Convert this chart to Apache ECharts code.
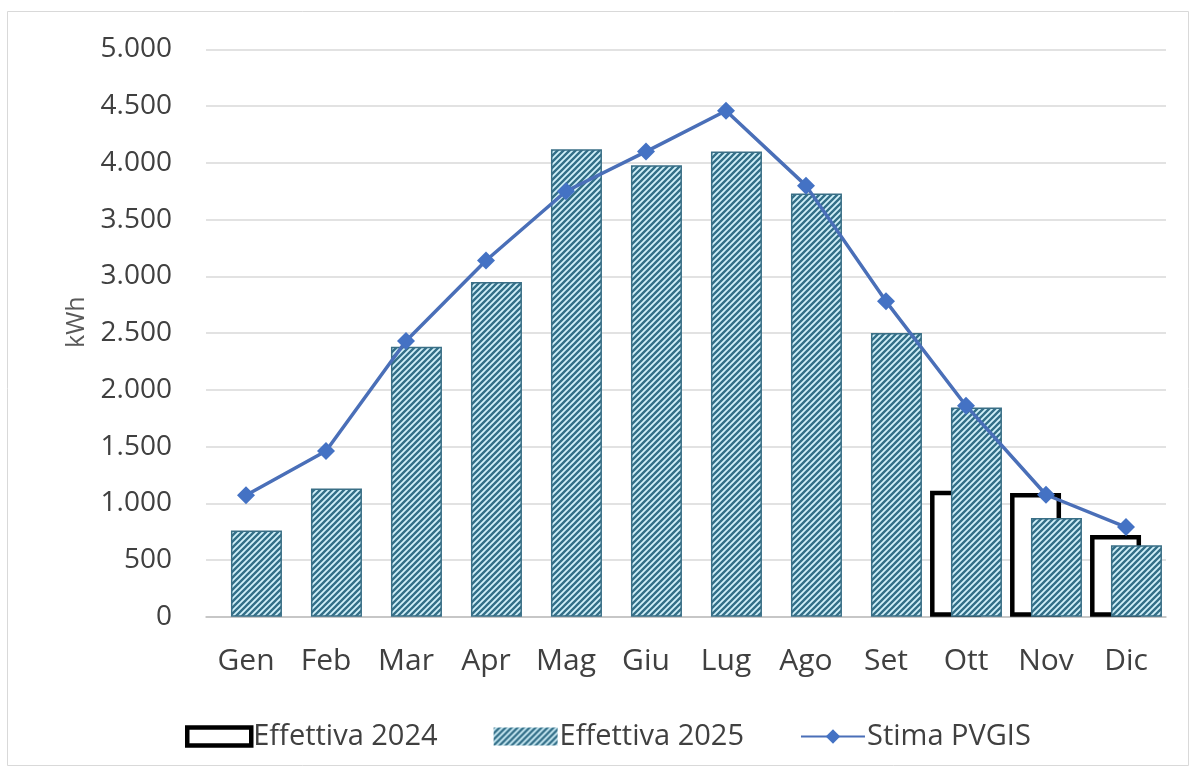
<!DOCTYPE html>
<html>
<head>
<meta charset="utf-8">
<script src="https://cdn.jsdelivr.net/npm/echarts@6/dist/echarts.min.js"></script>
<style>
  html, body { margin: 0; padding: 0; background: #ffffff; }
  #chart { width: 1196px; height: 773px; }
</style>
</head>
<body>
<div id="chart"></div>
<script>
// ---- Data ----
const categories = ['Gen', 'Feb', 'Mar', 'Apr', 'Mag', 'Giu', 'Lug', 'Ago', 'Set', 'Ott', 'Nov', 'Dic'];
const effettiva2024 = [null, null, null, null, null, null, null, null, null, 1110, 1090, 720];
const effettiva2025 = [760, 1130, 2380, 2950, 4120, 3980, 4100, 3730, 2500, 1845, 870, 630];
const stimaPVGIS = [1070, 1460, 2430, 3140, 3750, 4100, 4460, 3800, 2780, 1860, 1075, 790];
const yTicks = { min: 0, max: 5000, interval: 500 };

// ---- Hatch pattern ----
function makeHatch() {
  const s = 6;
  const c = document.createElement('canvas');
  c.width = s; c.height = s;
  const ctx = c.getContext('2d');
  ctx.fillStyle = '#d2f1fa';
  ctx.fillRect(0, 0, s, s);
  ctx.strokeStyle = '#336f88';
  ctx.lineWidth = 2.4;
  ctx.beginPath();
  ctx.moveTo(-1, 1); ctx.lineTo(1, -1);
  ctx.moveTo(0, s); ctx.lineTo(s, 0);
  ctx.moveTo(s - 1, s + 1); ctx.lineTo(s + 1, s - 1);
  ctx.stroke();
  return c;
}
const hatch = { image: makeHatch(), repeat: 'repeat' };

function fmt(v) {
  const s = String(Math.round(v));
  return s.replace(/\B(?=(\d{3})+(?!\d))/g, '.');
}

const FONT = "'Open Sans', 'Noto Sans', sans-serif";
const chart = echarts.init(document.getElementById('chart'), null, { renderer: 'canvas' });

chart.setOption({
  animation: false,
  backgroundColor: '#ffffff',
  graphic: [{
    type: 'rect',
    shape: { x: 7.5, y: 11.5, width: 1181, height: 754 },
    style: { fill: 'none', stroke: '#d9d9d9', lineWidth: 1 },
    silent: true, z: -10
  }],
  grid: { left: 206, right: 30, top: 49.5, bottom: 156.3, containLabel: false },
  legend: {
    left: 185, top: 722, padding: 0,
    itemWidth: 64, itemHeight: 18, itemGap: 56,
    textStyle: { fontFamily: FONT, fontSize: 29, color: '#404040', padding: [0, 0, 0, -3] },
    data: [
      { name: 'Effettiva 2024', icon: 'rect', itemStyle: { color: '#ffffff', borderColor: '#000000', borderWidth: 4.5 } },
      { name: 'Effettiva 2025', icon: 'rect', itemStyle: { color: hatch, borderColor: '#336f88', borderWidth: 0 } },
      { name: 'Stima PVGIS' }
    ]
  },
  xAxis: {
    type: 'category',
    data: categories,
    axisLine: { show: true, lineStyle: { color: '#bfbfbf', width: 1.5 } },
    axisTick: { show: false },
    axisLabel: { fontFamily: FONT, fontSize: 30, color: '#404040', margin: 30 },
    splitLine: { show: false }
  },
  yAxis: {
    type: 'value',
    min: yTicks.min, max: yTicks.max, interval: yTicks.interval,
    name: 'kWh',
    nameLocation: 'middle',
    nameGap: 116,
    nameRotate: 90,
    nameTextStyle: { fontFamily: FONT, fontSize: 25, color: '#595959', padding: [0, 0, 0, 22] },
    axisLine: { show: false },
    axisTick: { show: false },
    axisLabel: { fontFamily: FONT, fontSize: 28, color: '#404040', margin: 34, formatter: fmt },
    splitLine: { show: true, lineStyle: { color: '#d9d9d9', width: 1.5 } }
  },
  series: [
    {
      name: 'Effettiva 2024',
      type: 'bar',
      data: effettiva2024,
      barWidth: 51,
      barGap: '-59%',
      itemStyle: { color: '#ffffff', borderColor: '#000000', borderWidth: 4.5 },
      z: 2
    },
    {
      name: 'Effettiva 2025',
      type: 'bar',
      data: effettiva2025,
      barWidth: 51,
      barGap: '-59%',
      itemStyle: { color: hatch, borderColor: '#3a6f86', borderWidth: 1.5 },
      z: 3
    },
    {
      name: 'Stima PVGIS',
      type: 'line',
      data: stimaPVGIS,
      symbol: 'diamond',
      symbolSize: 18,
      lineStyle: { color: '#4a6fb8', width: 3.5 },
      itemStyle: { color: '#4472c4' },
      z: 5
    }
  ]
});
</script>
</body>
</html>
